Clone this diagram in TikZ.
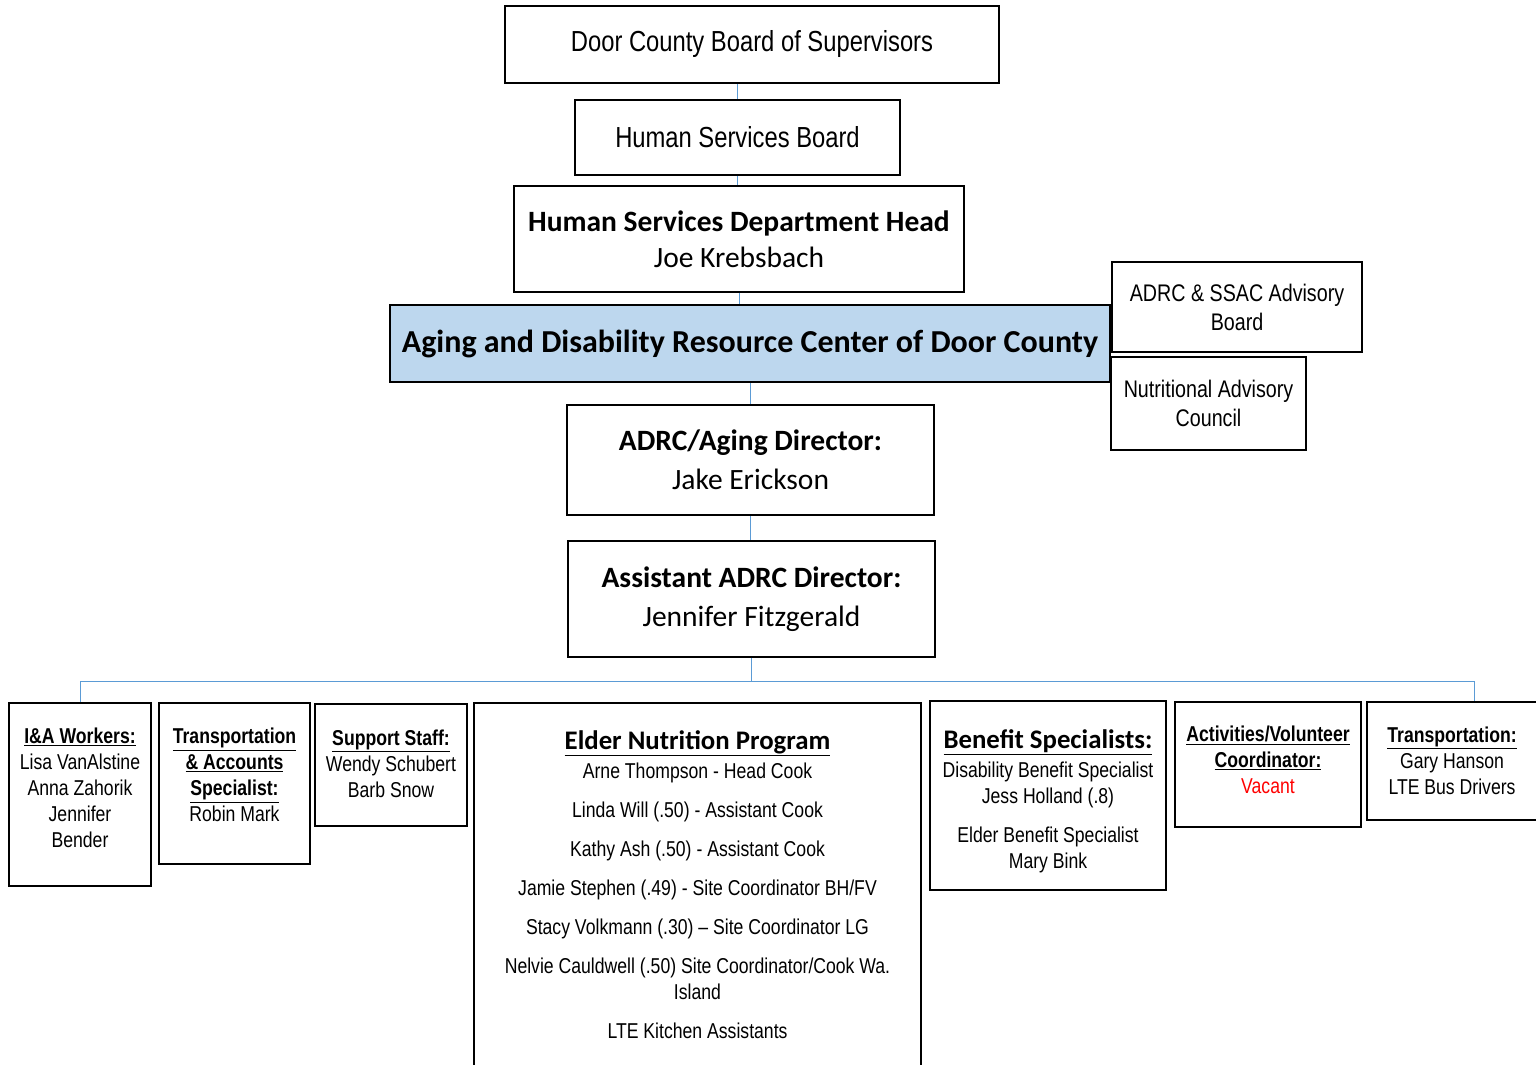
\documentclass[tikz,border=0pt]{standalone}
\usepackage{fontspec}
\setmainfont{Liberation Sans}[FakeStretch=0.82]
\newfontfamily\calfont{Carlito}
\usetikzlibrary{positioning}
\definecolor{adrcblue}{HTML}{BDD7EE}
\definecolor{linkblue}{HTML}{5B9BD5}
\newcommand{\bigtxt}{\fontsize{29}{34}\selectfont}
\newcommand{\midtxt}{\fontsize{24}{29}\selectfont}
\newcommand{\smalltxt}{\fontsize{21.5}{26}\selectfont}
\newcommand{\calhead}{\calfont\fontsize{29.5}{36}\selectfont}
\newcommand{\calbig}{\calfont\fontsize{29.5}{39}\selectfont}
\newcommand{\calsub}{\calfont\fontsize{26.8}{30}\selectfont}
\newcommand{\head}[1]{\underline{\textbf{#1}}}
\tikzset{
  box/.style={draw=black,line width=1.6pt,inner sep=0pt,align=center},
  link/.style={draw=linkblue,line width=1pt},
  txt/.style={inner sep=0pt,align=center,font=\smalltxt}
}
\begin{document}
\begin{tikzpicture}[x=1pt,y=-1pt]
\clip (0,0) rectangle (1536,1065);
\fill[white] (0,0) rectangle (1536,1065);
% upper chain
\node[box,minimum width=494pt,minimum height=77pt,font=\bigtxt] (sup) at (752,44.5) {Door County Board of Supervisors};
\node[box,minimum width=325pt,minimum height=75pt,font=\bigtxt] (hsb) at (737.5,137.5) {Human Services Board};
\node[box,minimum width=450pt,minimum height=106pt,font=\calhead] (head) at (739,239) {\textbf{Human Services Department Head}\\Joe Krebsbach};
\node[box,fill=adrcblue,minimum width=720pt,minimum height=77pt,font=\calfont\fontsize{32}{36}\selectfont] (adrc) at (750,343.5) {\textbf{Aging and Disability Resource Center of Door County}};
\node[box,line width=1.2pt,minimum width=250pt,minimum height=90pt,font=\midtxt] (advb) at (1237,307) {\raisebox{-3pt}{ADRC \& SSAC Advisory}\\\raisebox{-3pt}{Board}};
\node[box,line width=1.2pt,minimum width=195pt,minimum height=93pt,font=\midtxt] (nutr) at (1208.5,403.5) {\raisebox{-2pt}{Nutritional Advisory}\\\raisebox{-2pt}{Council}};
\node[box,minimum width=367pt,minimum height=110pt,font=\calbig] (dir) at (750.5,460) {\textbf{ADRC/Aging Director:}\\Jake Erickson};
\node[box,minimum width=367pt,minimum height=116pt,font=\calbig] (asst) at (751.5,599) {\textbf{Assistant ADRC Director:}\\Jennifer Fitzgerald};

\draw[link] (hsb.north) -- (hsb.north |- sup.south);
\draw[link] (hsb.south) -- (hsb.south |- head.north);
\draw[link] (head.south) -- (head.south |- adrc.north);
\draw[link] (dir.north) -- (dir.north |- adrc.south);
\draw[link] (dir.south) -- (dir.south |- asst.north);

% staff boxes
\node[box,minimum width=142pt,minimum height=183pt] (ia) at (80,794.5) {};
\node[box,minimum width=151pt,minimum height=161pt] (tacc) at (234.5,783.5) {};
\node[box,line width=1.2pt,minimum width=152pt,minimum height=122pt] (supp) at (391,765) {};
\node[box,minimum width=447pt,minimum height=372pt] (elder) at (697.5,889) {};
\node[box,minimum width=236pt,minimum height=189pt] (ben) at (1048,795.5) {};
\node[box,minimum width=186pt,minimum height=125pt] (act) at (1268,764.5) {};
\node[box,line width=1.2pt,minimum width=178pt,minimum height=118pt] (trans) at (1456,761) {};

\node[txt,below=26pt of ia.north] (iat) {\head{I\&A Workers:}\\Lisa VanAlstine\\Anna Zahorik\\Jennifer\\Bender};
\node[txt,below=26pt of tacc.north] (tacct) {\head{Transportation}\\\head{\& Accounts}\\\head{Specialist:}\\Robin Mark};
\node[txt,below=26pt of supp.north] (suppt) {\head{Support Staff:}\\Wendy Schubert\\Barb Snow};
\node[txt,below=28pt of elder.north] (eldert) {{\calsub\head{Elder Nutrition Program}}\\[3pt]
  Arne Thompson - Head Cook\\[13pt]
  Linda Will (.50) - Assistant Cook\\[13pt]
  Kathy Ash (.50) - Assistant Cook\\[13pt]
  Jamie Stephen (.49) - Site Coordinator BH/FV\\[13pt]
  Stacy Volkmann (.30) -- Site Coordinator LG\\[13pt]
  Nelvie Cauldwell (.50) Site Coordinator/Cook Wa.\\Island\\[13pt]
  LTE Kitchen Assistants};
\node[txt,below=29pt of ben.north] (bent) {{\calsub\head{Benefit Specialists:}}\\[3pt]
  Disability Benefit Specialist\\Jess Holland (.8)\\[13pt]
  Elder Benefit Specialist\\Mary Bink};
\node[txt,below=25pt of act.north] (actt) {\head{Activities/Volunteer}\\\head{Coordinator:}\\\textcolor{red}{Vacant}};
\node[txt,below=25pt of trans.north,xshift=-4pt] (transt) {\head{Transportation:}\\Gary Hanson\\LTE Bus Drivers};

\draw[link] (asst.south) -- ++(0,24) coordinate (bus);
\draw[link] (ia.north) |- (bus) -| ([xshift=18pt]trans.north);
\end{tikzpicture}
\end{document}
